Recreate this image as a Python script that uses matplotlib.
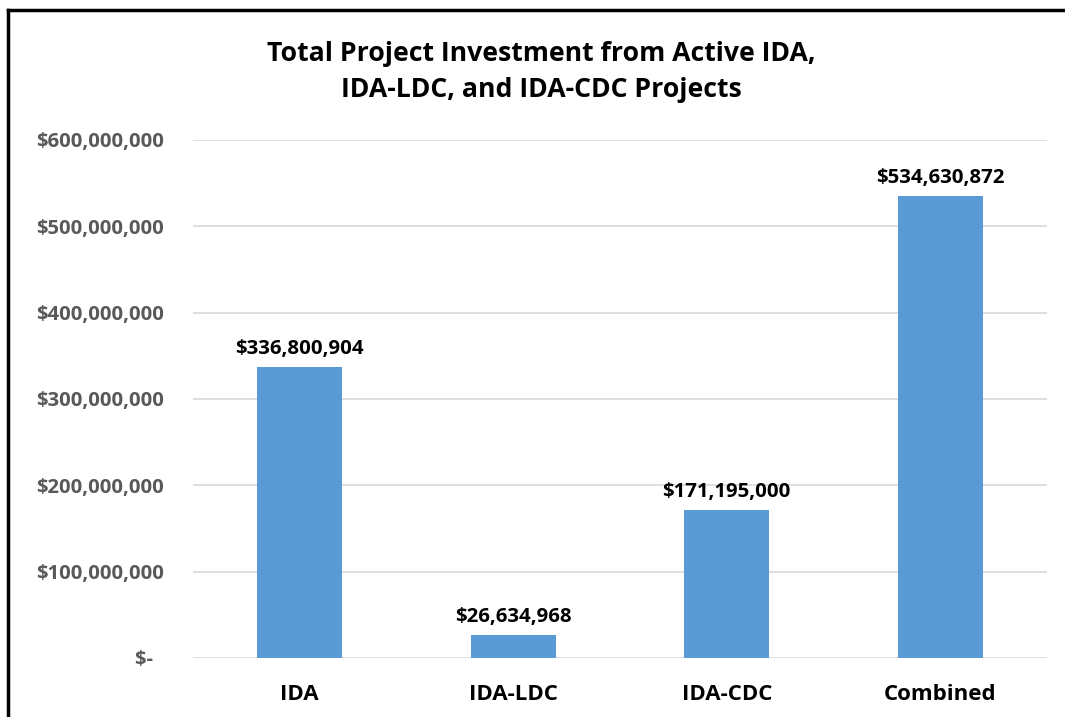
import matplotlib
matplotlib.use("Agg")
import matplotlib.pyplot as plt
from matplotlib.ticker import FuncFormatter
from matplotlib.lines import Line2D

categories = ["IDA", "IDA-LDC", "IDA-CDC", "Combined"]
values = [336800904, 26634968, 171195000, 534630872]
yticks = [0, 100000000, 200000000, 300000000, 400000000, 500000000, 600000000]

FONT = "Open Sans"
fig = plt.figure(figsize=(10.65, 7.17), dpi=100)
ax = fig.add_axes([193/1065, 1-658/717, (1047-193)/1065, (658-140)/717])

x = range(len(categories))
bars = ax.bar(x, values, width=0.4, color="#5B9BD5", zorder=3)
ax.set_xlim(-0.5, len(categories) - 0.5)
ax.set_ylim(0, 600000000)
ax.set_yticks(yticks)

def fmt(v, pos=None):
    if v == 0:
        return "$-  "
    return "${:,.0f}".format(v)

ax.yaxis.set_major_formatter(FuncFormatter(fmt))
ax.set_xticks(list(x))
ax.set_xticklabels(categories)
ax.grid(axis="y", color="#D9D9D9", linewidth=1.2, zorder=0)
for s in ax.spines.values():
    s.set_visible(False)
ax.tick_params(axis="both", length=0)
ax.tick_params(axis="y", pad=21, labelsize=14.6, labelcolor="#595959")
ax.tick_params(axis="x", pad=19, labelsize=16, labelcolor="black")
for lab in ax.get_yticklabels() + ax.get_xticklabels():
    lab.set_fontfamily(FONT)
    lab.set_fontweight("bold")

for b, v in zip(bars, values):
    ax.annotate("${:,.0f}".format(v), (b.get_x() + b.get_width()/2, v),
                xytext=(0, 6), textcoords="offset points", ha="center", va="bottom",
                fontsize=14.7, fontweight="bold", fontfamily=FONT, color="black")

fig.text(541/1065, 1-72/717, "Total Project Investment from Active IDA,\nIDA-LDC, and IDA-CDC Projects",
         ha="center", va="center", fontsize=19.2, fontweight="bold", fontfamily=FONT,
         linespacing=1.5, color="black")

# border lines (top and left)
fig.add_artist(Line2D([8/1065, 8/1065], [0, 1-10/717], transform=fig.transFigure, color="black", linewidth=2.5))
fig.add_artist(Line2D([8/1065, 1], [1-10/717, 1-10/717], transform=fig.transFigure, color="black", linewidth=2.5))

fig.savefig("out.png", dpi=100)
